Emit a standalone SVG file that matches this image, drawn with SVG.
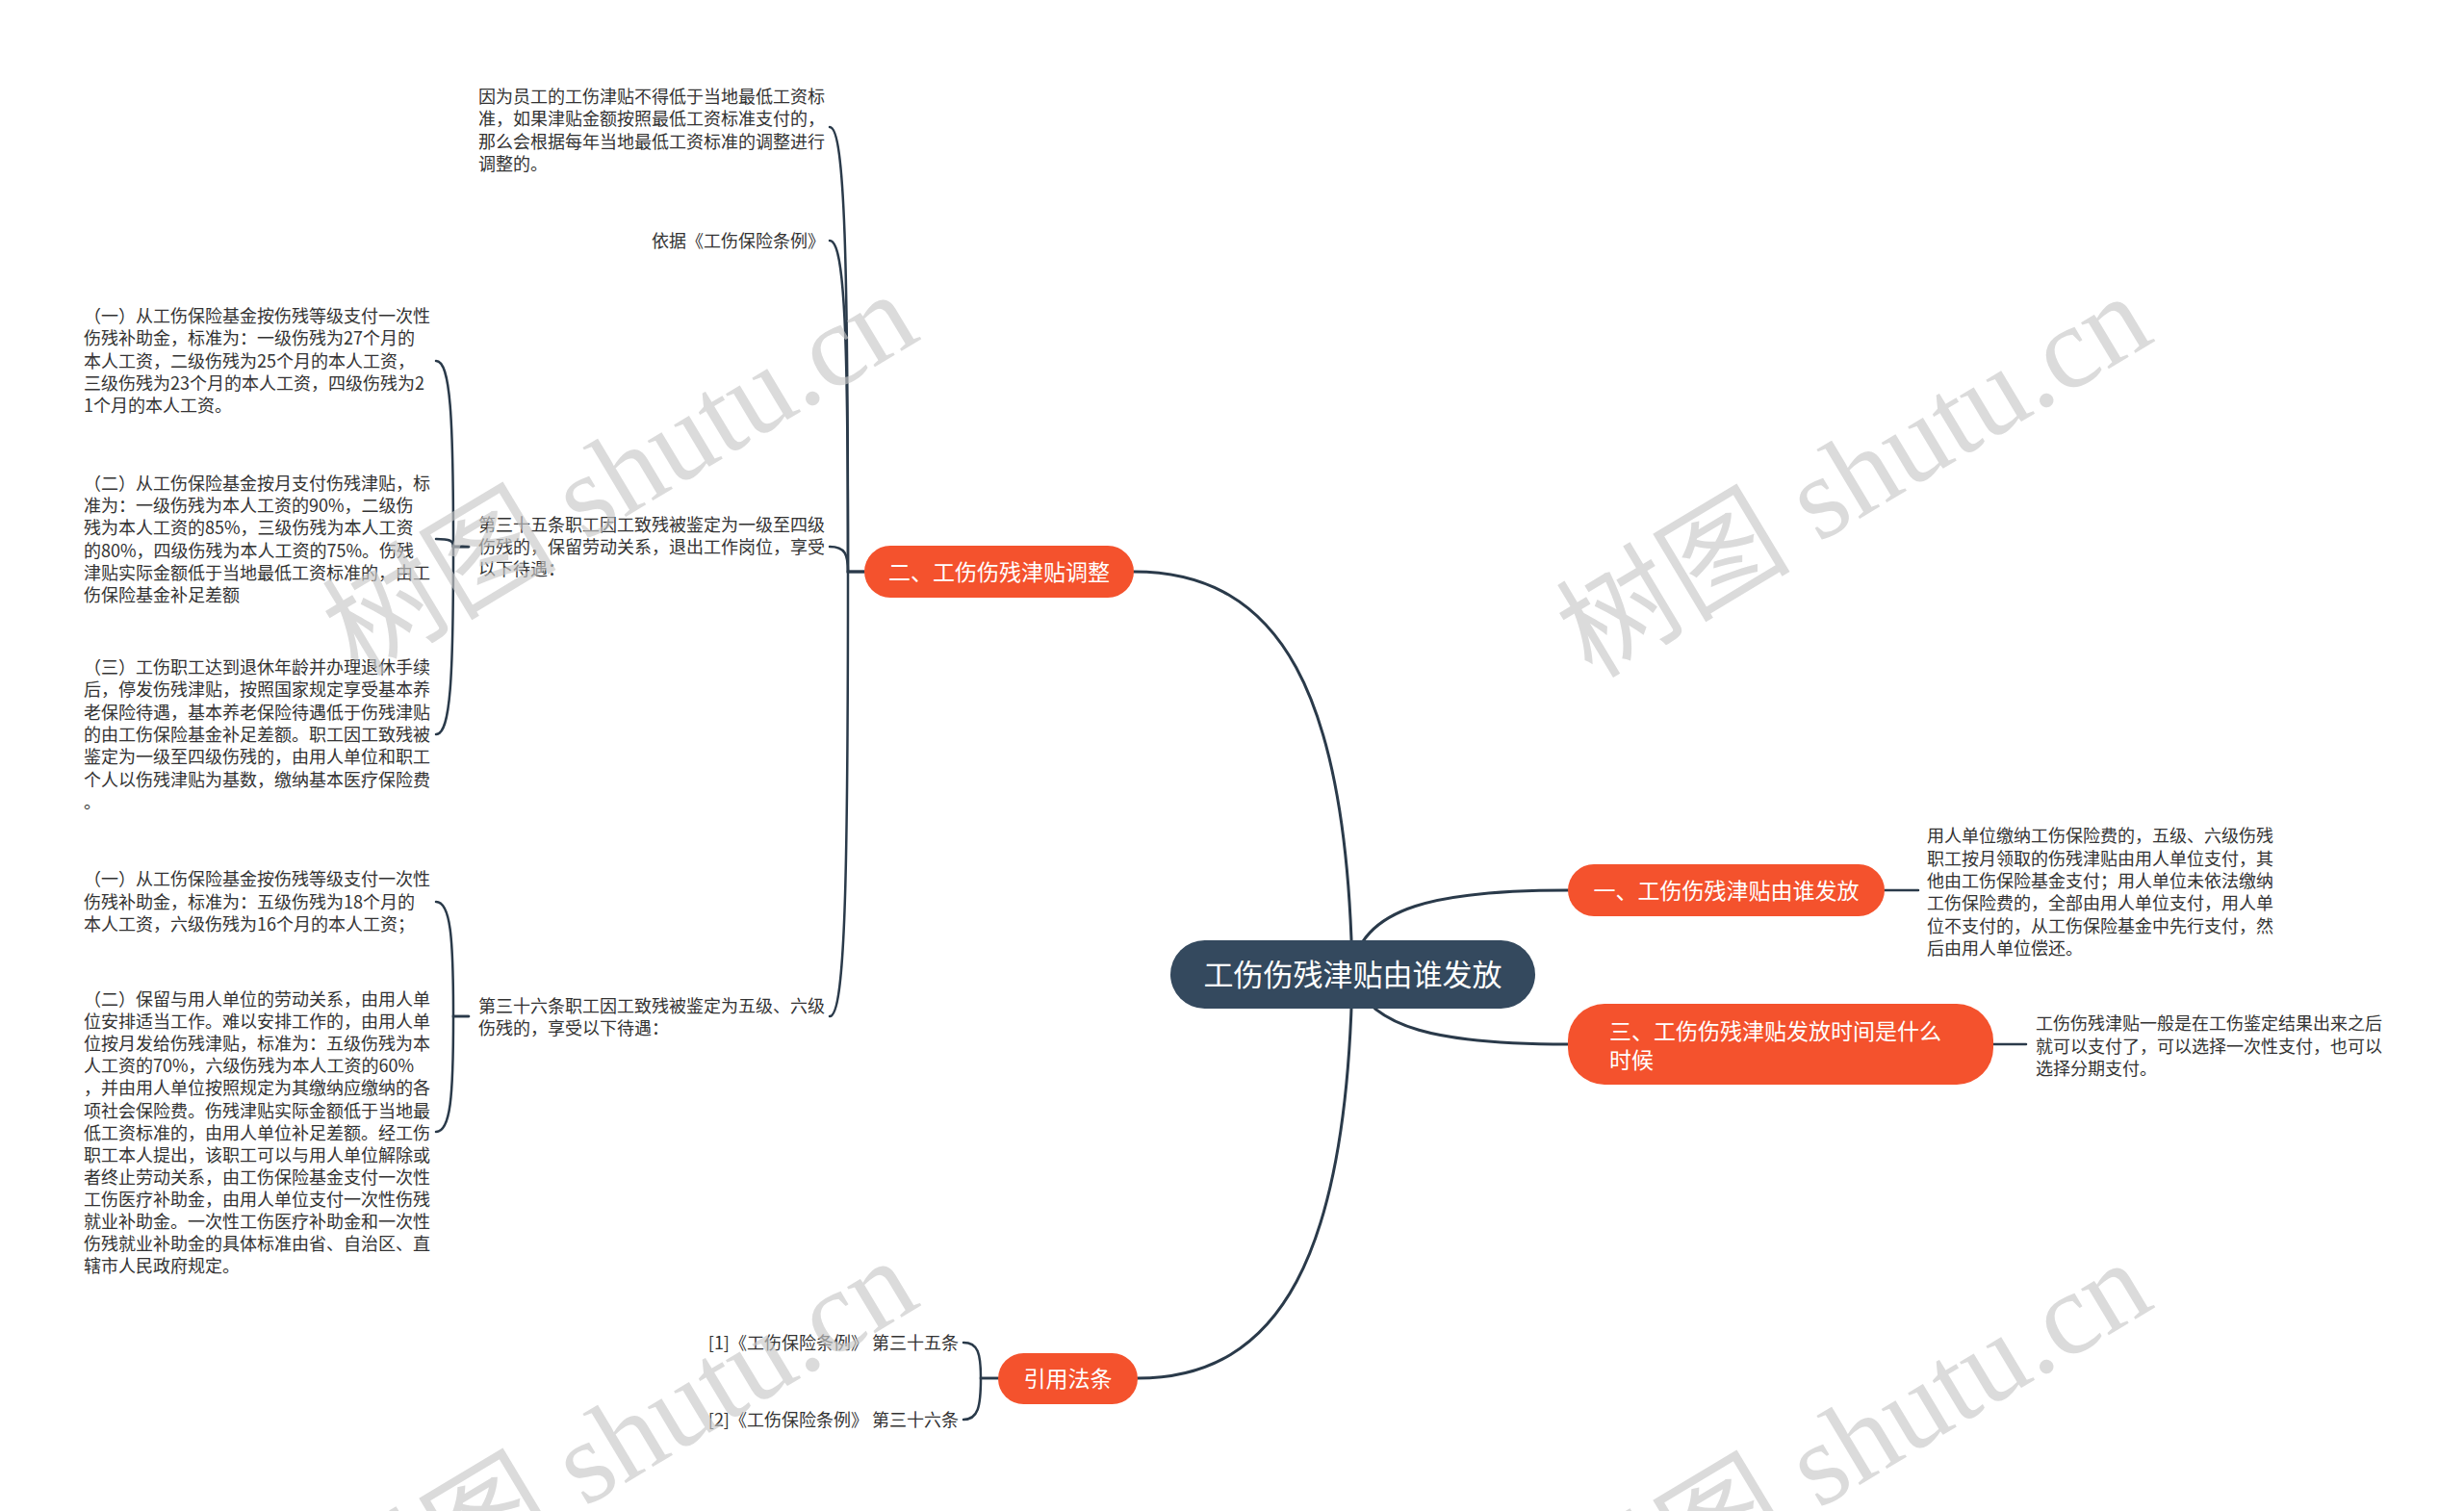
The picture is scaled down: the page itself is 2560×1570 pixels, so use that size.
<svg xmlns="http://www.w3.org/2000/svg" width="2560" height="1570" viewBox="0 0 2560 1570">
<style>
.leaf{font-family:"Noto Sans CJK SC","Noto Sans",sans-serif;font-size:18px;fill:#333333}
.nt{font-family:"Noto Sans CJK SC","Noto Sans",sans-serif;font-size:23px;fill:#ffffff}
.ct{font-family:"Noto Sans CJK SC","Noto Sans",sans-serif;font-size:31px;fill:#ffffff}
.orange{fill:#f4522d}
.main{fill:none;stroke:#2a3a4a;stroke-width:3;stroke-linecap:round}
.sub{fill:none;stroke:#2a3a4a;stroke-width:2.5;stroke-linecap:round}
.wm{font-size:122px;fill:#c8c8c8;opacity:0.65}
.wmc{font-family:"Noto Sans CJK SC",sans-serif;font-weight:400}
.wms{font-family:"Liberation Serif",serif}
</style>
<rect width="2560" height="1570" fill="#ffffff"/>
<g id="connectors">
<path class="main" d="M 1405 1012 C 1400 720, 1330 594, 1178 594"/>
<path class="main" d="M 1405 1012 C 1410 940, 1500 925, 1629 925"/>
<path class="main" d="M 1405 1012 C 1420 1070, 1500 1085, 1629 1085"/>
<path class="main" d="M 1405 1012 C 1400 1304, 1330 1432, 1182 1432"/>
<path class="sub" d="M 1958 925 L 1993 925"/>
<path class="sub" d="M 2071 1085 L 2105 1085"/>
<path class="sub" d="M 898 594 L 881 594 C 881 273, 878 132, 862 132"/>
<path class="sub" d="M 898 594 L 881 594 C 881 353, 878 250, 862 250"/>
<path class="sub" d="M 898 594 L 881 594 C 881 576, 878 568, 862 568"/>
<path class="sub" d="M 898 594 L 881 594 C 881 917, 878 1056, 862 1056"/>
<path class="sub" d="M 487 568 L 471 568 C 471 433, 468 375, 453 375"/>
<path class="sub" d="M 487 568 L 471 568 C 471 562, 468 560, 453 560"/>
<path class="sub" d="M 487 568 L 471 568 C 471 705, 468 763, 453 763"/>
<path class="sub" d="M 487 1056 L 471 1056 C 471 973, 468 937, 453 937"/>
<path class="sub" d="M 487 1056 L 471 1056 C 471 1140, 468 1176, 453 1176"/>
<path class="sub" d="M 1037 1432 L 1019 1432 C 1019 1406, 1016 1395, 1001 1395"/>
<path class="sub" d="M 1037 1432 L 1019 1432 C 1019 1462, 1016 1475, 1001 1475"/>
</g>
<g id="root">
<rect x="1216" y="977" width="379" height="71" rx="35.5" fill="#34495e"/>
<text class="ct" x="1405.5" y="1024" text-anchor="middle">工伤伤残津贴由谁发放</text>
</g>
<g id="n2">
<rect class="orange" x="898" y="567" width="280" height="54" rx="27"/>
<text class="nt" x="1038" y="603" text-anchor="middle">二、工伤伤残津贴调整</text>
</g>
<g id="n1">
<rect class="orange" x="1629" y="898" width="329" height="54" rx="27"/>
<text class="nt" x="1793.5" y="934" text-anchor="middle">一、工伤伤残津贴由谁发放</text>
</g>
<g id="n3">
<rect class="orange" x="1629" y="1043" width="442" height="84" rx="38"/>
<text class="nt"><tspan x="1672" y="1080">三、工伤伤残津贴发放时间是什么</tspan><tspan x="1672" y="1110">时候</tspan></text>
</g>
<g id="n4">
<rect class="orange" x="1037" y="1406" width="145" height="53" rx="26.5"/>
<text class="nt" x="1109.5" y="1441" text-anchor="middle">引用法条</text>
</g>
<g id="leaf-a">
<text class="leaf"><tspan x="497" y="107">因为员工的工伤津贴不得低于当地最低工资标</tspan><tspan x="497" y="130">准，如果津贴金额按照最低工资标准支付的，</tspan><tspan x="497" y="154">那么会根据每年当地最低工资标准的调整进行</tspan><tspan x="497" y="177">调整的。</tspan></text>
</g>
<g id="leaf-b">
<text class="leaf" x="857" y="257" text-anchor="end">依据《工伤保险条例》</text>
</g>
<g id="leaf-c">
<text class="leaf"><tspan x="497" y="552">第三十五条职工因工致残被鉴定为一级至四级</tspan><tspan x="497" y="575">伤残的，保留劳动关系，退出工作岗位，享受</tspan><tspan x="497" y="598">以下待遇：</tspan></text>
</g>
<g id="leaf-d">
<text class="leaf"><tspan x="497" y="1052">第三十六条职工因工致残被鉴定为五级、六级</tspan><tspan x="497" y="1075">伤残的，享受以下待遇：</tspan></text>
</g>
<g id="leaf-c1">
<text class="leaf"><tspan x="87" y="335">（一）从工伤保险基金按伤残等级支付一次性</tspan><tspan x="87" y="358">伤残补助金，标准为：一级伤残为27个月的</tspan><tspan x="87" y="382">本人工资，二级伤残为25个月的本人工资，</tspan><tspan x="87" y="405">三级伤残为23个月的本人工资，四级伤残为2</tspan><tspan x="87" y="428">1个月的本人工资。</tspan></text>
</g>
<g id="leaf-c2">
<text class="leaf"><tspan x="87" y="509">（二）从工伤保险基金按月支付伤残津贴，标</tspan><tspan x="87" y="532">准为：一级伤残为本人工资的90%，二级伤</tspan><tspan x="87" y="555">残为本人工资的85%，三级伤残为本人工资</tspan><tspan x="87" y="579">的80%，四级伤残为本人工资的75%。伤残</tspan><tspan x="87" y="602">津贴实际金额低于当地最低工资标准的，由工</tspan><tspan x="87" y="625">伤保险基金补足差额</tspan></text>
</g>
<g id="leaf-c3">
<text class="leaf"><tspan x="87" y="700">（三）工伤职工达到退休年龄并办理退休手续</tspan><tspan x="87" y="723">后，停发伤残津贴，按照国家规定享受基本养</tspan><tspan x="87" y="747">老保险待遇，基本养老保险待遇低于伤残津贴</tspan><tspan x="87" y="770">的由工伤保险基金补足差额。职工因工致残被</tspan><tspan x="87" y="793">鉴定为一级至四级伤残的，由用人单位和职工</tspan><tspan x="87" y="817">个人以伤残津贴为基数，缴纳基本医疗保险费</tspan><tspan x="87" y="840">。</tspan></text>
</g>
<g id="leaf-d1">
<text class="leaf"><tspan x="87" y="920">（一）从工伤保险基金按伤残等级支付一次性</tspan><tspan x="87" y="944">伤残补助金，标准为：五级伤残为18个月的</tspan><tspan x="87" y="967">本人工资，六级伤残为16个月的本人工资；</tspan></text>
</g>
<g id="leaf-d2">
<text class="leaf"><tspan x="87" y="1045">（二）保留与用人单位的劳动关系，由用人单</tspan><tspan x="87" y="1068">位安排适当工作。难以安排工作的，由用人单</tspan><tspan x="87" y="1091">位按月发给伤残津贴，标准为：五级伤残为本</tspan><tspan x="87" y="1114">人工资的70%，六级伤残为本人工资的60%</tspan><tspan x="87" y="1137">，并由用人单位按照规定为其缴纳应缴纳的各</tspan><tspan x="87" y="1161">项社会保险费。伤残津贴实际金额低于当地最</tspan><tspan x="87" y="1184">低工资标准的，由用人单位补足差额。经工伤</tspan><tspan x="87" y="1207">职工本人提出，该职工可以与用人单位解除或</tspan><tspan x="87" y="1230">者终止劳动关系，由工伤保险基金支付一次性</tspan><tspan x="87" y="1253">工伤医疗补助金，由用人单位支付一次性伤残</tspan><tspan x="87" y="1276">就业补助金。一次性工伤医疗补助金和一次性</tspan><tspan x="87" y="1299">伤残就业补助金的具体标准由省、自治区、直</tspan><tspan x="87" y="1322">辖市人民政府规定。</tspan></text>
</g>
<g id="leaf-e1">
<text class="leaf"><tspan x="2002" y="875">用人单位缴纳工伤保险费的，五级、六级伤残</tspan><tspan x="2002" y="899">职工按月领取的伤残津贴由用人单位支付，其</tspan><tspan x="2002" y="922">他由工伤保险基金支付；用人单位未依法缴纳</tspan><tspan x="2002" y="945">工伤保险费的，全部由用人单位支付，用人单</tspan><tspan x="2002" y="969">位不支付的，从工伤保险基金中先行支付，然</tspan><tspan x="2002" y="992">后由用人单位偿还。</tspan></text>
</g>
<g id="leaf-f1">
<text class="leaf"><tspan x="2115" y="1070">工伤伤残津贴一般是在工伤鉴定结果出来之后</tspan><tspan x="2115" y="1094">就可以支付了，可以选择一次性支付，也可以</tspan><tspan x="2115" y="1117">选择分期支付。</tspan></text>
</g>
<g id="leaf-r1">
<text class="leaf" x="996" y="1402" text-anchor="end">[1]《工伤保险条例》 第三十五条</text>
</g>
<g id="leaf-r2">
<text class="leaf" x="996" y="1482" text-anchor="end">[2]《工伤保险条例》 第三十六条</text>
</g>
<g id="watermarks">
<text class="wm" x="372" y="704" transform="rotate(-31 372 704)"><tspan class="wmc">树图</tspan><tspan class="wms"> shutu.cn</tspan></text>
<text class="wm" x="1654" y="706" transform="rotate(-31 1654 706)"><tspan class="wmc">树图</tspan><tspan class="wms"> shutu.cn</tspan></text>
<text class="wm" x="372" y="1708" transform="rotate(-31 372 1708)"><tspan class="wmc">树图</tspan><tspan class="wms"> shutu.cn</tspan></text>
<text class="wm" x="1654" y="1710" transform="rotate(-31 1654 1710)"><tspan class="wmc">树图</tspan><tspan class="wms"> shutu.cn</tspan></text>
</g>
</svg>
